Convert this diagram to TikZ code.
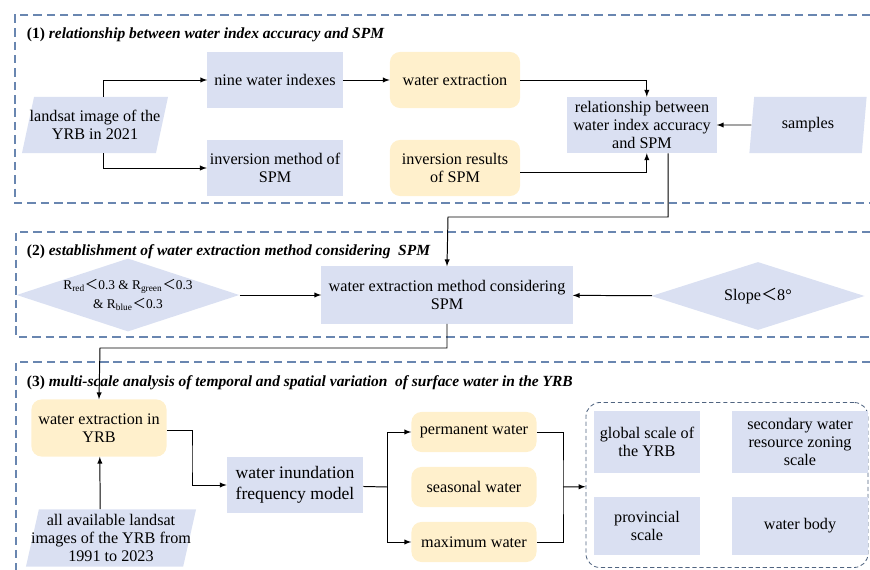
\documentclass[tikz,border=0pt]{standalone}
\usepackage{fontspec}
\setmainfont{Liberation Serif}
\newfontfamily\cjk{Noto Sans CJK SC}
\usepackage{tikz}
\usetikzlibrary{positioning}
\usetikzlibrary{calc}
\usetikzlibrary{arrows,shapes}

\definecolor{boxblue}{RGB}{218,224,242}
\definecolor{boxyellow}{RGB}{255,240,204}
\definecolor{framecol}{RGB}{105,134,176}
\definecolor{scalecol}{RGB}{80,100,128}
\newcommand{\lt}{{\cjk ＜}}

\begin{document}
\begin{tikzpicture}[x=0.025cm,y=-0.025cm,
  every node/.style={font=\rmfamily\fontsize{11.5}{13}\selectfont,align=center},
  bluebox/.style={fill=boxblue,inner sep=2pt},
  yellowbox/.style={fill=boxyellow,rounded corners=0.25cm,inner sep=2pt},
  dataio/.style={fill=boxblue,trapezium,trapezium stretches body,inner xsep=-9pt,inner ysep=0pt},
  cond/.style={fill=boxblue,diamond,inner sep=0pt,aspect=3.05},
  frame/.style={draw=framecol,line width=0.8pt,dash pattern=on 6pt off 3.5pt},
  title/.style={anchor=west,font=\rmfamily\fontsize{11}{13}\selectfont\bfseries\itshape},
  line/.style={line width=0.7pt}]
\useasboundingbox (0,0) rectangle (870,570);

% frames
\draw[frame] (870,15) -- (15,15) -- (15,203) -- (870,203);
\draw[frame] (870,232) -- (16,232) -- (16,337) -- (870,337);
\draw[frame] (870,362) -- (16,362) -- (16,572);
\node[title](t1) at (22,35){\upshape(1) \itshape relationship between water index accuracy and SPM};
\node[title](t2) at (22,252){\upshape(2) \itshape establishment of water extraction method considering~ SPM};
\node[title](t3) at (22,383){\upshape(3) \itshape multi-scale analysis of temporal and spatial variation~ of surface water in the YRB};

% part 1
\node[dataio,trapezium left angle=68,trapezium right angle=112,minimum width=3.65cm,minimum height=1.4cm](landsat) at (95,125){landsat image of the\\YRB in 2021};
\node[bluebox,minimum width=3.375cm,minimum height=1.4cm](nine) at (275,80){nine water indexes};
\node[bluebox,minimum width=3.375cm,minimum height=1.4cm](invm) at (275,168){inversion method of\\SPM};
\node[yellowbox,minimum width=3.25cm,minimum height=1.4cm](wext) at (455,80){water extraction};
\node[yellowbox,minimum width=3.25cm,minimum height=1.4cm](invres) at (455,168){inversion results\\of SPM};
\node[bluebox,minimum width=3.725cm,minimum height=1.4cm](rel) at (642,125){relationship between\\water index accuracy\\and SPM};
\node[dataio,trapezium left angle=72,trapezium right angle=108,minimum width=2.93cm,minimum height=1.4cm](samples) at (808,125){samples};

% part 2
\node[cond,minimum width=5.33cm,minimum height=1.75cm](rcond) at (128,295){\fontsize{9.5}{12}\selectfont R\textsubscript{red}\lt0.3 \& R\textsubscript{green}\lt0.3\\\fontsize{9.5}{12}\selectfont \& R\textsubscript{blue}\lt0.3};
\node[bluebox,minimum width=6.275cm,minimum height=1.425cm](method) at (447,295){water extraction method considering\\SPM};
\node[cond,minimum width=5.33cm,minimum height=1.7cm](slope) at (758,296){Slope\lt8°};
\coordinate (bendA) at (448,217);
\coordinate (bendB) at (100,348);

% part 3
\node[yellowbox,minimum width=3.375cm,minimum height=1.425cm](yrb) at (99,428){water extraction in\\YRB};
\node[dataio,trapezium left angle=75,trapezium right angle=105,minimum width=4.25cm,minimum height=1.425cm](all) at (111,538){all available landsat\\images of the YRB from\\1991 to 2023};
\node[bluebox,minimum width=3.4cm,minimum height=1.4cm,font=\rmfamily\fontsize{12.5}{15}\selectfont](inund) at (295,485){water inundation\\frequency model};
\node[yellowbox,minimum width=3.125cm,minimum height=1cm](perm) at (474,432){permanent water};
\node[yellowbox,minimum width=3.125cm,minimum height=1cm](seas) at (474,487){seasonal water};
\node[yellowbox,minimum width=3.125cm,minimum height=1cm](maxw) at (474,542){maximum water};
\node[draw=scalecol,dash pattern=on 3pt off 2pt,line width=0.6pt,rounded corners=0.35cm,minimum width=7.05cm,minimum height=4.125cm](scales) at (727,485){};
\node[bluebox,minimum width=2.625cm,minimum height=1.525cm](glob) at (647,442){global scale of\\the YRB};
\node[bluebox,minimum width=3.375cm,minimum height=1.525cm](sec) at (800,442){secondary water\\resource zoning\\scale};
\node[bluebox,minimum width=2.625cm,minimum height=1.425cm](prov) at (647,526){provincial\\scale};
\node[bluebox,minimum width=3.375cm,minimum height=1.425cm](body) at (800,526){water body};
\coordinate (jA) at (192,460);
\coordinate (jB) at (387,487);
\coordinate (jC) at (563,487);

\path[line]
(nine) edge[-latex]node{} (wext)
(samples) edge[-latex]node{} (rel)
(rcond) edge[-latex]node{} (method)
(slope) edge[-latex]node{} (method)
([xshift=-0.27cm]all.north) edge[-latex]node{} ([xshift=0.02cm]yrb.south)
(inund) edge node{} (jB)
(jC) edge[-latex]node{} (scales);

\draw[line,-latex] ([xshift=0.2cm]landsat.north) |- (nine);
\draw[line,-latex] ([xshift=0.2cm]landsat.south) |- (invm);
\draw[line,-latex] (wext) -| ([xshift=0.12cm]rel.north);
\draw[line,-latex] ([yshift=-0.12cm]invres.east) -| ([xshift=0.12cm]rel.south);
\draw[line,-latex] ([xshift=0.65cm]rel.south) |- (bendA) -- (method.north);
\draw[line,-latex] (method.south) |- (bendB) -- (yrb.north);
\draw[line,-latex] ([yshift=-0.07cm]yrb.east) -| (jA) |- (inund);
\draw[line,-latex] (jB) |- (perm);
\draw[line,-latex] (jB) |- (maxw);
\draw[line] (perm) -| (jC) |- (maxw);
\end{tikzpicture}
\end{document}
